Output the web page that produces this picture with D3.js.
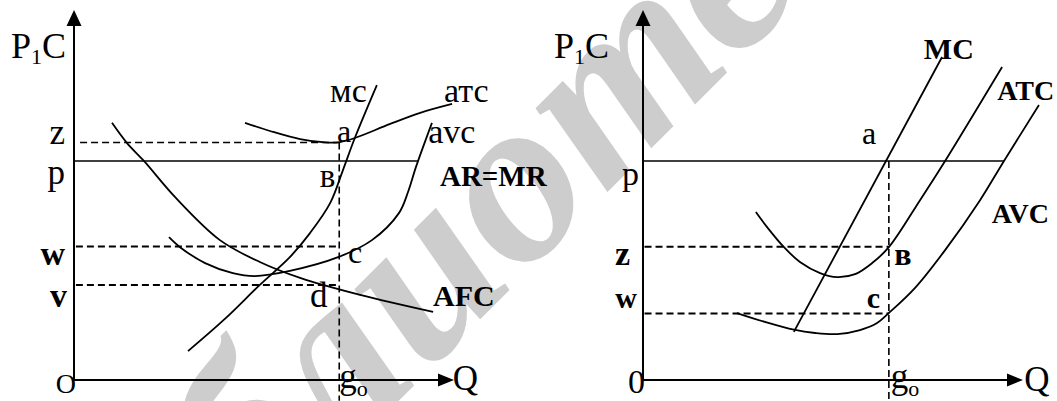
<!DOCTYPE html>
<html>
<head>
<meta charset="utf-8">
<script src="https://cdn.jsdelivr.net/npm/d3@7/dist/d3.min.js"></script>
<style>
body { margin: 0; background: #fff; }
text { font-family: "Liberation Serif", "Times New Roman", serif; fill: #000; }
</style>
</head>
<body>
<div id="chart"></div>
<script>
// values, in axis units (0..100 on both axes)
const leftLevelNames = ["z", "p", "w", "v"];
const leftLevelValues = [64.2, 59.2, 36.1, 25.7];
const leftQ0 = 69.8;
const leftPriceEnd = 90.5;
const leftMC = [[30.0, 7.8], [39.7, 16.5], [48.9, 25.7], [56.8, 33.2], [62.1, 39.7], [67.4, 47.8], [70.8, 56.8], [73.9, 65.4], [79.7, 79.7]];
const leftATC = [[45.0, 69.5], [51.6, 67.3], [59.5, 65.1], [66.1, 64.2], [70.0, 64.3], [73.9, 65.4], [83.2, 69.2], [91.1, 72.2], [99.5, 74.6]];
const leftAVC = [[25.0, 38.6], [27.9, 35.9], [34.5, 31.6], [41.8, 28.9], [47.6, 28.1], [56.8, 29.5], [69.5, 33.2], [78.4, 37.8], [85.5, 45.1], [87.9, 50.8], [90.0, 57.6], [94.2, 69.5]];
const leftAFC = [[10.0, 69.5], [13.9, 64.1], [18.4, 59.2], [26.8, 49.2], [38.4, 37.8], [48.9, 31.9], [59.5, 27.6], [75.3, 23.0], [94.5, 18.4]];

const rightLevelNames = ["p", "z", "w"];
const rightLevelValues = [59.2, 36.0, 18.0];
const rightQ0 = 64.7;
const rightPriceEnd = 95.0;
const rightMC = [[39.7, 13.0], [78.7, 87.3]];
const rightATC = [[29.7, 45.4], [32.6, 41.4], [37.1, 35.9], [41.3, 31.9], [46.6, 28.9], [51.1, 27.8], [55.8, 28.6], [60.3, 31.6], [64.7, 35.9], [72.9, 48.6], [79.5, 59.2], [94.5, 84.6]];
const rightAVC = [[24.7, 18.1], [32.1, 15.7], [39.7, 13.6], [45.3, 12.7], [51.1, 12.4], [57.1, 13.5], [61.6, 15.4], [64.7, 18.1], [71.6, 24.9], [79.5, 35.1], [88.7, 48.6], [95.0, 59.2], [104.2, 74.3]];

const watermarkText = "библиотека";

const W = 1057, H = 401;

const svg = d3.select("#chart").append("svg")
	.attr("width", W)
	.attr("height", H);

// diagonal watermark behind everything
svg.append("text")
	.attr("transform", "translate(470,215) rotate(-45)")
	.attr("text-anchor", "middle")
	.attr("dominant-baseline", "central")
	.style("font-style", "italic")
	.style("font-weight", "bold")
	.style("font-size", "240px")
	.style("fill", "#cdcdcd")
	.text(watermarkText);

function makePanel (originX) {
	return {
		x: d3.scaleLinear().domain([0, 100]).range([originX, originX + 380]),
		y: d3.scaleLinear().domain([0, 100]).range([380, 10])
	};
}

function drawAxes (g, s) {
	const x0 = s.x(0), y0 = s.y(0);
	g.append("line")
		.attr("x1", x0).attr("x2", x0)
		.attr("y1", y0).attr("y2", s.y(100) + 10)
		.attr("stroke", "#000").attr("stroke-width", 2);
	g.append("line")
		.attr("x1", x0).attr("x2", s.x(100) - 10)
		.attr("y1", y0).attr("y2", y0)
		.attr("stroke", "#000").attr("stroke-width", 2);
	g.append("path")
		.attr("d", `M ${x0} ${s.y(100)} L ${x0 - 7.5} ${s.y(100) + 16} L ${x0 + 7.5} ${s.y(100) + 16} Z`)
		.attr("fill", "#000");
	g.append("path")
		.attr("d", `M ${s.x(100)} ${y0} L ${s.x(100) - 16} ${y0 - 6.5} L ${s.x(100) - 16} ${y0 + 6.5} Z`)
		.attr("fill", "#000");
}

function drawCurve (g, s, pts) {
	const line = d3.line()
		.x(d => s.x(d[0]))
		.y(d => s.y(d[1]))
		.curve(d3.curveCatmullRom.alpha(0.5));
	g.append("path")
		.attr("d", line(pts))
		.attr("fill", "none")
		.attr("stroke", "#000")
		.attr("stroke-width", 1.8);
}

function dashed (g, s, u1, v1, u2, v2, width) {
	g.append("line")
		.attr("x1", s.x(u1)).attr("y1", s.y(v1))
		.attr("x2", s.x(u2)).attr("y2", s.y(v2))
		.attr("stroke", "#000")
		.attr("stroke-width", width)
		.attr("stroke-dasharray", "7,4");
}

function label (g, s, txt, u, v, size, opts) {
	opts = opts || {};
	const t = g.append("text")
		.attr("x", s.x(u) + (opts.dx || 0))
		.attr("y", s.y(v) + (opts.dy || 0))
		.attr("text-anchor", opts.anchor || "start")
		.style("font-size", size + "px")
		.style("font-weight", opts.bold ? "bold" : "normal");
	if (opts.sub) {
		t.append("tspan").text(txt);
		t.append("tspan").attr("dy", opts.subDy).style("font-size", opts.subSize + "px").text(opts.sub);
		if (opts.after) {
			t.append("tspan").attr("dy", -opts.subDy).text(opts.after);
		}
	} else {
		t.text(txt);
	}
	return t;
}

// ---------- left panel
const L = makePanel(74);
const gl = svg.append("g");

const lz = leftLevelValues[0], lp = leftLevelValues[1], lw = leftLevelValues[2], lv = leftLevelValues[3];

gl.append("line")
	.attr("x1", L.x(0)).attr("x2", L.x(leftPriceEnd))
	.attr("y1", L.y(lp)).attr("y2", L.y(lp))
	.attr("stroke", "#000").attr("stroke-width", 1.6);

dashed(gl, L, 1.6, lz, leftQ0, lz, 1.4);
dashed(gl, L, 0.5, lw, leftQ0, lw, 2);
dashed(gl, L, 0.5, lv, leftQ0, lv, 2);
dashed(gl, L, leftQ0, lz, leftQ0, -5.6, 1.6);

[leftMC, leftATC, leftAVC, leftAFC].forEach(c => drawCurve(gl, L, c));
drawAxes(gl, L);

// level labels next to the price axis
const leftLevelDy = [1.5, 23, 18.5, 22];
const leftLevelDx = [-9, -9, -9, -7];
leftLevelNames.forEach((n, i) => {
	label(gl, L, n, 0, leftLevelValues[i], i >= 2 ? 34 : 35, {
		anchor: "end", dx: leftLevelDx[i], dy: leftLevelDy[i], bold: i >= 2
	});
});
label(gl, L, "O", 0, 0, 28, { anchor: "end", dx: 2, dy: 13 });
label(gl, L, "P", -16.6, 87.0, 36, { sub: "1", subSize: 22, subDy: 6, after: "C" });
label(gl, L, "Q", 99.7, -2.7, 35);
label(gl, L, "g", leftQ0, -2.2, 35, { sub: "o", subSize: 22, subDy: 8 });
label(gl, L, "мс", 67.4, 75.1, 34);
label(gl, L, "атс", 97.4, 75.1, 34);
label(gl, L, "a", 69.2, 64.3, 32);
label(gl, L, "avc", 93.2, 64.1, 34);
label(gl, L, "в", 64.7, 52.2, 33);
label(gl, L, "AR=MR", 96.3, 52.4, 29, { bold: true });
label(gl, L, "c", 72.1, 31.6, 32);
label(gl, L, "d", 62.1, 19.7, 35);
label(gl, L, "AFC", 94.5, 20.0, 30, { bold: true });

// ---------- right panel
const R = makePanel(643);
const gr = svg.append("g");

const rp = rightLevelValues[0], rz = rightLevelValues[1], rw = rightLevelValues[2];

gr.append("line")
	.attr("x1", R.x(0)).attr("x2", R.x(rightPriceEnd))
	.attr("y1", R.y(rp)).attr("y2", R.y(rp))
	.attr("stroke", "#000").attr("stroke-width", 1.6);

dashed(gr, R, 0.4, rz, rightQ0, rz, 2);
dashed(gr, R, 0.4, rw, rightQ0, rw, 2);
dashed(gr, R, rightQ0, rp, rightQ0, -5.6, 1.6);

[rightMC, rightATC, rightAVC].forEach(c => drawCurve(gr, R, c));
drawAxes(gr, R);

const rightLevelDy = [24, 18.3, -5.3];
const rightLevelDx = [-4, -13, -6];
rightLevelNames.forEach((n, i) => {
	label(gr, R, n, 0, rightLevelValues[i], i === 2 ? 30 : 34, {
		anchor: "end", dx: rightLevelDx[i], dy: rightLevelDy[i], bold: i > 0
	});
});
label(gr, R, "0", 0, 0, 34, { anchor: "end", dx: 2, dy: 13 });
label(gr, R, "P", -23.4, 87.0, 36, { sub: "1", subSize: 22, subDy: 6, after: "C" });
label(gr, R, "Q", 100.3, -2.9, 35);
label(gr, R, "g", rightQ0 + 0.5, -2.2, 35, { sub: "o", subSize: 22, subDy: 8 });
label(gr, R, "MC", 73.9, 86.8, 30, { bold: true });
label(gr, R, "ATC", 93.2, 75.7, 28, { bold: true });
label(gr, R, "AVC", 91.8, 42.4, 28, { bold: true });
label(gr, R, "a", 57.6, 63.8, 32);
label(gr, R, "в", 66.1, 31.1, 32, { bold: true });
label(gr, R, "c", 58.9, 19.5, 30, { bold: true });
</script>
</body>
</html>
